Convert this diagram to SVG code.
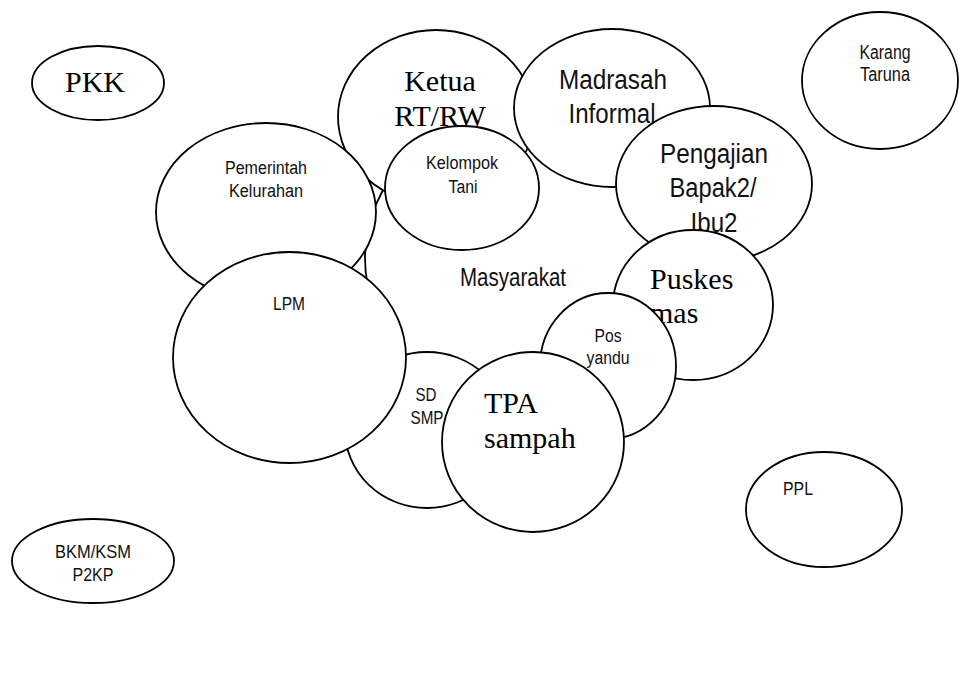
<svg xmlns="http://www.w3.org/2000/svg" width="959" height="677" viewBox="0 0 959 677">
<style>
.e{fill:#fff;stroke:#000;stroke-width:1.8}
.s{font-family:"Liberation Sans",Arial,sans-serif;fill:#111;text-anchor:middle}
.r{font-family:"Liberation Serif","Times New Roman",serif;fill:#000}
</style>
<rect width="959" height="677" fill="#fff"/>
<g id="masyarakat"><ellipse class="e" cx="520" cy="258" rx="155" ry="145"/><text class="s" x="513" y="286" font-size="25" textLength="106" lengthAdjust="spacingAndGlyphs">Masyarakat</text></g>
<g id="ketua"><ellipse class="e" cx="436" cy="117" rx="98" ry="87"/><text class="r" x="440" y="91" font-size="30" text-anchor="middle">Ketua</text><text class="r" x="440" y="126" font-size="30" text-anchor="middle">RT/RW</text></g>
<g id="madrasah"><ellipse class="e" cx="612" cy="108" rx="98" ry="79"/><text class="s" x="613" y="89" font-size="27" textLength="108" lengthAdjust="spacingAndGlyphs">Madrasah</text><text class="s" x="612" y="123" font-size="27" textLength="87" lengthAdjust="spacingAndGlyphs">Informal</text></g>
<g id="kelompok-tani"><ellipse class="e" cx="462" cy="188" rx="77" ry="62"/><text class="s" x="462" y="169" font-size="18" textLength="72" lengthAdjust="spacingAndGlyphs">Kelompok</text><text class="s" x="463" y="193" font-size="18" textLength="29" lengthAdjust="spacingAndGlyphs">Tani</text></g>
<g id="pengajian"><ellipse class="e" cx="714" cy="184" rx="98" ry="78"/><text class="s" x="714" y="163" font-size="27" textLength="108" lengthAdjust="spacingAndGlyphs">Pengajian</text><text class="s" x="713" y="197" font-size="27" textLength="87" lengthAdjust="spacingAndGlyphs">Bapak2/</text><text class="s" x="714" y="232" font-size="27" textLength="47" lengthAdjust="spacingAndGlyphs">Ibu2</text></g>
<g id="puskesmas"><ellipse class="e" cx="693" cy="305" rx="80" ry="75"/><text class="r" x="650" y="289" font-size="30">Puskes</text><text class="r" x="650" y="323" font-size="30">mas</text></g>
<g id="posyandu"><ellipse class="e" cx="608" cy="366" rx="68" ry="73"/><text class="s" x="608" y="342" font-size="18" textLength="27" lengthAdjust="spacingAndGlyphs">Pos</text><text class="s" x="608" y="364" font-size="18" textLength="43" lengthAdjust="spacingAndGlyphs">yandu</text></g>
<g id="sd-smp"><ellipse class="e" cx="427" cy="430" rx="82" ry="78"/><text class="s" x="426" y="401" font-size="18" textLength="21" lengthAdjust="spacingAndGlyphs">SD</text><text class="s" x="427" y="424" font-size="18" textLength="33" lengthAdjust="spacingAndGlyphs">SMP</text></g>
<g id="tpa"><ellipse class="e" cx="533" cy="442" rx="91" ry="90"/><text class="r" x="484" y="413" font-size="30">TPA</text><text class="r" x="484" y="448" font-size="30">sampah</text></g>
<g id="pemerintah"><ellipse class="e" cx="266" cy="212" rx="110" ry="89"/><text class="s" x="266" y="174" font-size="18" textLength="82" lengthAdjust="spacingAndGlyphs">Pemerintah</text><text class="s" x="266" y="197" font-size="18" textLength="74" lengthAdjust="spacingAndGlyphs">Kelurahan</text></g>
<g id="lpm"><ellipse class="e" cx="289.5" cy="357.5" rx="116.5" ry="105.5"/><text class="s" x="289" y="310" font-size="18" textLength="32" lengthAdjust="spacingAndGlyphs">LPM</text></g>
<g id="pkk"><ellipse class="e" cx="98" cy="83" rx="66" ry="37"/><text class="r" x="95" y="92" font-size="30" text-anchor="middle">PKK</text></g>
<g id="karang-taruna"><ellipse class="e" cx="880" cy="80.5" rx="78" ry="68.5"/><text class="s" x="885" y="59" font-size="20" textLength="51" lengthAdjust="spacingAndGlyphs">Karang</text><text class="s" x="885" y="81" font-size="20" textLength="50" lengthAdjust="spacingAndGlyphs">Taruna</text></g>
<g id="ppl"><ellipse class="e" cx="824" cy="509.5" rx="78" ry="57.5"/><text class="s" x="798" y="495" font-size="19" textLength="30" lengthAdjust="spacingAndGlyphs">PPL</text></g>
<g id="bkm"><ellipse class="e" cx="93" cy="561" rx="81" ry="42"/><text class="s" x="93" y="558" font-size="19" textLength="76" lengthAdjust="spacingAndGlyphs">BKM/KSM</text><text class="s" x="93" y="581" font-size="19" textLength="41" lengthAdjust="spacingAndGlyphs">P2KP</text></g>
<g id="connectors"/>
</svg>
